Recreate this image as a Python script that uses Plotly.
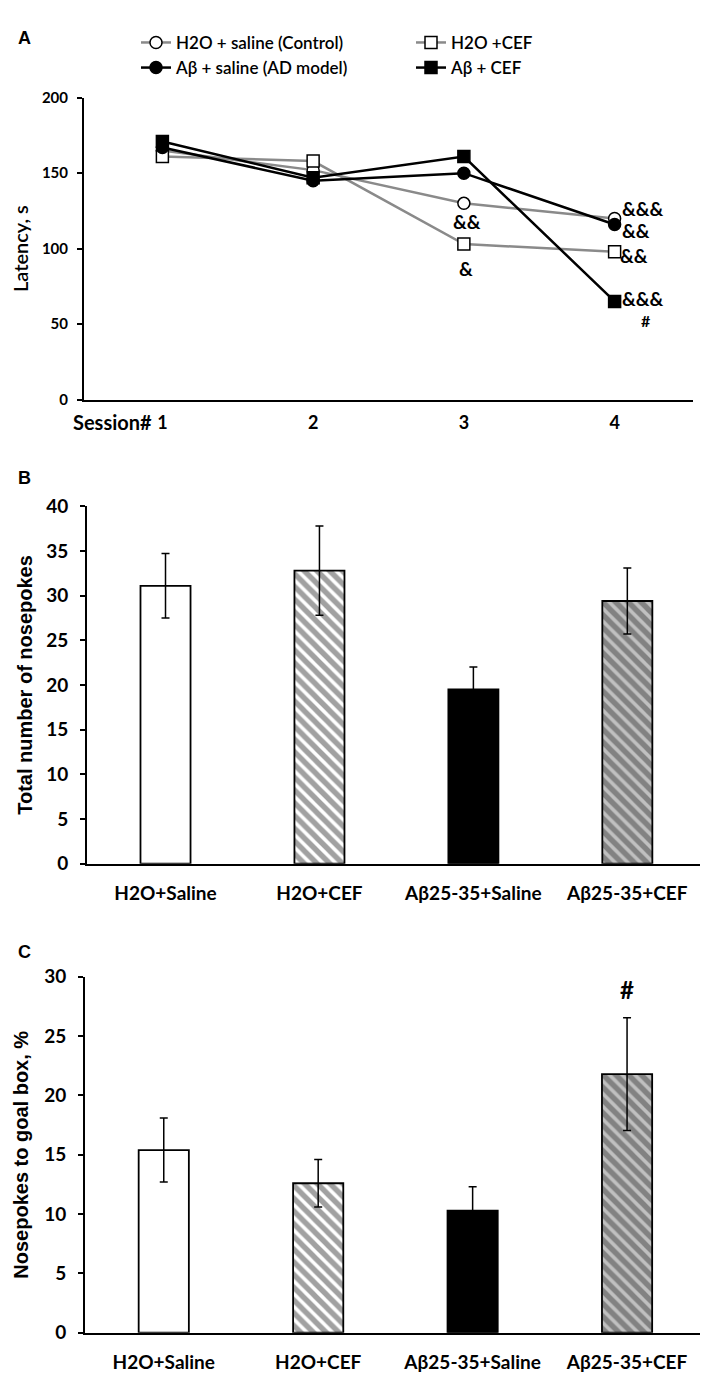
import plotly.graph_objects as go

# ---------------- Data ----------------
# Panel A: latency per session
sessions = [1, 2, 3, 4]
session_labels = ["1", "2", "3", "4"]
lat_control = [165, 152, 130, 120]      # H2O + saline (Control)
lat_h2o_cef = [161, 158, 103, 98]       # H2O + CEF
lat_ab_saline = [167, 145, 150, 116]    # Aβ + saline (AD model)
lat_ab_cef = [171, 147, 161, 65]        # Aβ + CEF

# Panel B / C: groups
groups = ["H2O+Saline", "H2O+CEF", "Aβ25-35+Saline", "Aβ25-35+CEF"]
total_nosepokes = [31.1, 32.8, 19.5, 29.4]
total_nosepokes_err = [3.6, 5.0, 2.5, 3.7]
goal_pct = [15.4, 12.6, 10.3, 21.8]
goal_pct_err = [2.7, 2.0, 2.0, 4.75]

W, H = 708, 1381
CAL = "Lato"
ARIAL = "Liberation Sans, Arial"

def px_x(a, b):
    return [a / W, b / W]

def px_y(top, bottom):
    return [1 - bottom / H, 1 - top / H]

fig = go.Figure()

GRAY = "#8a8a8a"
series = [
    ("H2O + saline (Control)", lat_control, GRAY, "circle", "white"),
    ("H2O +CEF", lat_h2o_cef, GRAY, "square", "white"),
    ("Aβ + saline (AD model)", lat_ab_saline, "black", "circle", "black"),
    ("Aβ + CEF", lat_ab_cef, "black", "square", "black"),
]
for name, vals, lc, sym, fc in series:
    fig.add_trace(go.Scatter(
        x=sessions, y=vals, name=name, mode="lines+markers",
        line=dict(color=lc, width=2.5),
        marker=dict(symbol=sym, size=12, color=fc, line=dict(color="black", width=1.5)),
        xaxis="x", yaxis="y",
    ))

pattern_shapes = ["", "\\", "", "\\"]
bar_colors = ["white", "white", "black", "#c0c0c0"]

def bars(vals, errs, xa, ya):
    return go.Bar(
        x=groups, y=vals, width=0.325, showlegend=False,
        marker=dict(color=bar_colors, line=dict(color="black", width=1.8),
                    pattern=dict(shape=pattern_shapes, fgcolor="black",
                                 bgcolor=bar_colors, size=9, solidity=0.6)),
        error_y=dict(type="data", array=errs, visible=True, color="black",
                     thickness=1.5, width=4),
        xaxis=xa, yaxis=ya,
    )

fig.add_trace(bars(total_nosepokes, total_nosepokes_err, "x2", "y2"))
fig.add_trace(bars(goal_pct, goal_pct_err, "x3", "y3"))

axis_common = dict(showgrid=False, zeroline=False, showline=True, linecolor="black",
                   mirror=False)

bigtick = dict(family=CAL, size=19, color="black", weight="bold")

fig.update_layout(
    width=W, height=H, margin=dict(l=0, r=0, t=0, b=0),
    plot_bgcolor="white", paper_bgcolor="white",
    font=dict(family=CAL, color="black"),
    showlegend=True,
    legend=dict(orientation="h", x=128 / W, y=1 - 5 / H, xanchor="left", yanchor="top",
                entrywidth=230, entrywidthmode="pixels", itemwidth=30,
                font=dict(family=CAL, size=17, color="black", weight=600),
                bgcolor="rgba(0,0,0,0)", tracegroupgap=0),
    # Panel A
    xaxis=dict(domain=px_x(76, 685), range=[0.48, 4.52], tickmode="array",
               tickvals=sessions, ticktext=session_labels, ticks="",
               tickfont=dict(family=CAL, size=18, color="black", weight="bold"),
               ticklabelstandoff=6, anchor="y", linewidth=2, **axis_common),
    yaxis=dict(domain=px_y(79, 386), range=[0, 200], tickvals=[0, 50, 100, 150, 200],
               ticks="outside", ticklen=5, tickwidth=1.5, tickcolor="black",
               ticklabelstandoff=6, tickfont=dict(family=CAL, size=15, color="black", weight="bold"),
               anchor="x", linewidth=2,
               title=dict(text="Latency, s", standoff=10,
                          font=dict(family=CAL, size=20, color="black", weight=600)),
               **axis_common),
    # Panel B
    xaxis2=dict(domain=px_x(79, 704), range=[-0.51, 3.55], ticks="",
                tickfont=bigtick, ticklabelstandoff=12, anchor="y2", linewidth=1.8,
                **axis_common),
    yaxis2=dict(domain=px_y(494.5, 858), range=[0, 40], dtick=5,
                ticks="outside", ticklen=5, tickwidth=1.5, tickcolor="black",
                ticklabelstandoff=8, tickfont=bigtick,
                anchor="x2", linewidth=1.8,
                title=dict(text="Total number of nosepokes", standoff=8,
                           font=dict(family=ARIAL, size=20, color="black", weight="bold")),
                **axis_common),
    # Panel C
    xaxis3=dict(domain=px_x(77, 704), range=[-0.51, 3.55], ticks="",
                tickfont=bigtick, ticklabelstandoff=12, anchor="y3", linewidth=1.8,
                **axis_common),
    yaxis3=dict(domain=px_y(973, 1335), range=[0, 30], dtick=5,
                ticks="outside", ticklen=5, tickwidth=1.5, tickcolor="black",
                ticklabelstandoff=8, tickfont=bigtick,
                anchor="x3", linewidth=1.8,
                title=dict(text="Nosepokes to goal box, %", standoff=10,
                           font=dict(family=ARIAL, size=20, color="black", weight="bold")),
                **axis_common),
)

ann = []
# panel letters
for letter, yy in [("A", 18), ("B", 466), ("C", 948)]:
    ann.append(dict(text=letter, x=16 / W, y=1 - yy / H, xref="paper", yref="paper",
                    xanchor="center", yanchor="middle", showarrow=False,
                    font=dict(family=ARIAL, size=18, color="black", weight="bold")))
ann.append(dict(text="Session#", x=1, y=0, xref="x", yref="y", xanchor="right",
                yanchor="top", xshift=-8, yshift=-8, showarrow=False,
                font=dict(family=CAL, size=20, color="black", weight="bold")))

sigfont = dict(family=CAL, size=19, color="black", weight="bold")
# significance marks in panel A: (session, value, text, xanchor, xshift, yshift)
sig_a = [
    (3, lat_control[2], "&&", "center", 3, -18),
    (3, lat_h2o_cef[2], "&", "center", 2, -24),
    (4, lat_control[3], "&&&", "left", 6, 10),
    (4, lat_ab_saline[3], "&&", "left", 6, -6),
    (4, lat_h2o_cef[3], "&&", "left", 4, -4),
    (4, lat_ab_cef[3], "&&&", "left", 6, 3),
    (4, lat_ab_cef[3], "#", "center", 31, -19),
]
for sx, sy, t, xa, xs, ys in sig_a:
    ann.append(dict(text=t, x=sx, y=sy, xref="x", yref="y", xanchor=xa, yanchor="middle",
                    xshift=xs, yshift=ys, showarrow=False, borderpad=0,
                    font=dict(sigfont, size=16) if t == "#" else sigfont))
# panel C significance
ann.append(dict(text="#", x=groups[3], y=goal_pct[3] + goal_pct_err[3], xref="x3", yref="y3",
                xanchor="center", yanchor="bottom", yshift=12, showarrow=False,
                font=dict(family=CAL, size=24, color="black", weight="bold")))
fig.update_layout(annotations=ann)

fig.write_html("out.html")
